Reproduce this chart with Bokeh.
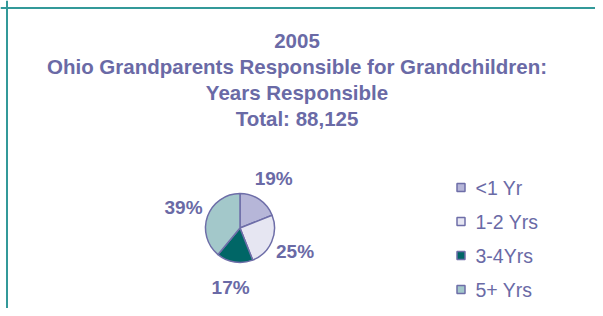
import math
from bokeh.plotting import figure
from bokeh.models import Range1d, Span, ColumnDataSource
from bokeh.embed import file_html
from bokeh.resources import INLINE
from bokeh.core.properties import value

# ---- data ----
title_lines = ["2005",
               "Ohio Grandparents Responsible for Grandchildren:",
               "Years Responsible",
               "Total: 88,125"]
categories = ["<1 Yr", "1-2 Yrs", "3-4Yrs", "5+ Yrs"]
percents = [19, 25, 17, 39]

# ---- style ----
slice_colors = ["#b6b6d8", "#e6e6f2", "#006666", "#a3c8ca"]
TEXT = "#6a6aa6"
OUTLINE = "#6e6ea8"
BORDER = "#339999"
FONT = "Liberation Sans"

W, H = 595, 308
p = figure(width=W, height=H, x_range=Range1d(0, W), y_range=Range1d(0, H),
           output_backend="svg", toolbar_location=None, min_border=0,
           x_axis_type=None, y_axis_type=None)
p.grid.visible = False
p.outline_line_color = None
p.background_fill_color = "white"
p.border_fill_color = "white"

# frame lines (left and top, continuing off-page)
p.add_layout(Span(location=6.5, dimension="height", line_color=BORDER, line_width=2))
p.add_layout(Span(location=H - 7.5, dimension="width", line_color=BORDER, line_width=2))

# ---- title ----
title_x = 296.5
title_top = H - 40.5
title_step = 25.7
p.text(x=[title_x] * len(title_lines),
       y=[title_top - i * title_step for i in range(len(title_lines))],
       text=title_lines, text_font=value(FONT), text_font_style="bold",
       text_font_size="20.5px", text_color=TEXT, text_align="center",
       text_baseline="middle")

# ---- pie ----
cx, cy, R = 239.5, H - 227.5, 34.5
total = sum(percents)
cum = 0
starts, ends, mids = [], [], []
for v in percents:
    a0 = math.pi / 2 - 2 * math.pi * cum / total
    cum += v
    a1 = math.pi / 2 - 2 * math.pi * cum / total
    starts.append(a0)
    ends.append(a1)
    mids.append((a0 + a1) / 2)

pie_src = ColumnDataSource(dict(start=starts, end=ends, color=slice_colors, cat=categories))
p.wedge(x=cx, y=cy, radius=R, start_angle="start", end_angle="end",
        direction="clock", fill_color="color", line_color=OUTLINE,
        line_width=1.5, source=pie_src)

LR = 60
p.text(x=[cx + LR * math.cos(m) for m in mids],
       y=[cy + LR * math.sin(m) for m in mids],
       text=[f"{v}%" for v in percents], text_font=value(FONT),
       text_font_style="bold", text_font_size="19px", text_color=TEXT,
       text_align="center", text_baseline="middle")

# ---- legend ----
lx, ly, lstep = 460.5, H - 187, 34
leg_y = [ly - i * lstep for i in range(len(categories))]
p.scatter(x=[lx] * len(categories), y=leg_y, marker="square", size=8,
          fill_color=slice_colors, line_color=OUTLINE, line_width=1.5)
p.text(x=[lx + 14.5] * len(categories), y=leg_y, text=categories,
       text_font=value(FONT), text_font_size="19.5px", text_color=TEXT,
       text_align="left", text_baseline="middle")

open("out.html", "w").write(file_html(p, INLINE))
